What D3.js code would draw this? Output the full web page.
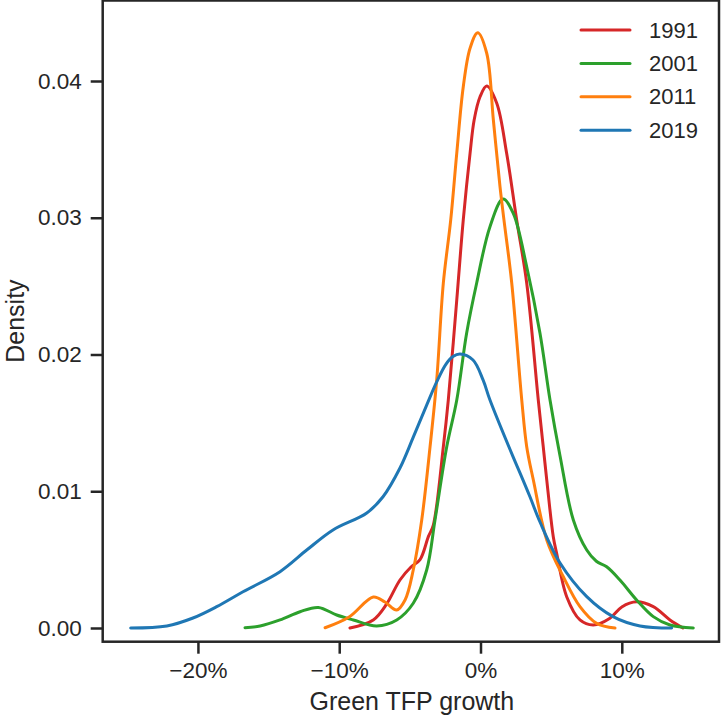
<!DOCTYPE html>
<html>
<head>
<meta charset="utf-8">
<script src="https://cdn.jsdelivr.net/npm/d3@7"></script>
<style>
  html, body { margin: 0; padding: 0; background: #fff; }
  svg { display: block; }
  text { font-family: "Liberation Sans", Arial, sans-serif; fill: #262626; }
</style>
</head>
<body>
<svg id="chart" width="722" height="719"></svg>
<script>
// ---- data (x in %, density) ----
const years = ["1991", "2001", "2011", "2019"];
const colors = ["#d62728", "#2ca02c", "#ff7f0e", "#1f77b4"];

const x1991 = [-9.24, -7.59, -6.64, -5.70, -4.92, -4.28, -3.69, -3.34, -2.63, -2.28, -1.68, -1.22, -0.74, -0.45, -0.04, 0.44, 1.15, 1.85, 2.56, 3.27, 4.09, 4.44, 4.69, 5.15, 5.39, 6.10, 7.04, 7.98, 9.16, 10.00, 11.05, 12.23, 13.41, 14.33];
const d1991 = [0.0000, 0.00059, 0.00176, 0.00351, 0.00446, 0.00500, 0.00668, 0.00753, 0.01326, 0.01667, 0.02399, 0.02984, 0.03471, 0.03715, 0.03883, 0.03963, 0.03837, 0.03471, 0.02984, 0.02523, 0.01667, 0.01326, 0.01082, 0.00668, 0.00546, 0.00229, 0.00059, 0.00022, 0.00071, 0.00154, 0.00192, 0.00156, 0.00059, 0.0000];

const x2001 = [-16.67, -15.60, -14.19, -12.77, -11.48, -10.18, -9.00, -7.35, -5.93, -4.76, -3.81, -3.22, -2.39, -1.68, -0.98, -0.27, 0.67, 1.59, 2.32, 3.27, 4.21, 4.92, 5.63, 6.57, 7.52, 8.20, 8.93, 9.87, 11.05, 12.23, 13.41, 15.06];
const d2001 = [0.00002, 0.00015, 0.00059, 0.00119, 0.00150, 0.00095, 0.00059, 0.00015, 0.00059, 0.00181, 0.00424, 0.00790, 0.01326, 0.01667, 0.02157, 0.02523, 0.02935, 0.03137, 0.03032, 0.02642, 0.02155, 0.01667, 0.01258, 0.00790, 0.00570, 0.00488, 0.00448, 0.00351, 0.00205, 0.00083, 0.00022, 0.0000];

const x2011 = [-11.00, -9.27, -7.59, -6.76, -5.93, -5.34, -4.76, -4.16, -3.57, -3.10, -2.63, -2.11, -1.68, -1.22, -0.74, -0.20, 0.44, 0.91, 1.38, 1.66, 2.21, 2.92, 3.27, 3.74, 4.69, 5.86, 7.04, 8.22, 9.52];
const d2011 = [0.00002, 0.00083, 0.00227, 0.00190, 0.00132, 0.00205, 0.00424, 0.00790, 0.01326, 0.01814, 0.02523, 0.02982, 0.03473, 0.03958, 0.04240, 0.04353, 0.04203, 0.03715, 0.03227, 0.02984, 0.02523, 0.01667, 0.01326, 0.01082, 0.00644, 0.00375, 0.00156, 0.00034, 0.0000];

const x2019 = [-24.76, -22.20, -20.35, -18.67, -16.81, -14.19, -12.30, -10.44, -8.05, -6.90, -5.70, -4.78, -3.81, -3.10, -2.44, -1.95, -1.45, -0.53, 0.18, 0.67, 2.30, 2.80, 3.50, 4.21, 5.63, 7.52, 9.38, 11.29, 13.53];
const d2019 = [0.0000, 0.00015, 0.00073, 0.00156, 0.00265, 0.00412, 0.00570, 0.00717, 0.00841, 0.00960, 0.01170, 0.01390, 0.01630, 0.01800, 0.01930, 0.01985, 0.02004, 0.01960, 0.01814, 0.01667, 0.01253, 0.01133, 0.00960, 0.00775, 0.00475, 0.00229, 0.00083, 0.00015, 0.0000];

const xTicks = [-20, -10, 0, 10];
const xTickLabels = ["\u221220%", "\u221210%", "0%", "10%"];
const yTicks = [0, 0.01, 0.02, 0.03, 0.04];
const yTickLabels = ["0.00", "0.01", "0.02", "0.03", "0.04"];

const seriesX = [x1991, x2001, x2011, x2019];
const seriesD = [d1991, d2001, d2011, d2019];

// ---- layout ----
const svg = d3.select("#chart");
const mLeft = 102.7, mRight = 719, mTop = 0.5, mBottom = 641.7;

const x = d3.scaleLinear().domain([-26.74, 16.88]).range([mLeft, mRight]);
const y = d3.scaleLinear().domain([-0.001002, 0.045887]).range([mBottom, mTop]);

const ink = "#262626";

// curves
const line = d3.line().x(d => x(d[0])).y(d => y(d[1])).curve(d3.curveCatmullRom.alpha(0.5));
years.forEach((yr, i) => {
  const pts = seriesX[i].map((v, j) => [v, seriesD[i][j]]);
  svg.append("path")
    .attr("d", line(pts))
    .attr("fill", "none")
    .attr("stroke", colors[i])
    .attr("stroke-width", 3)
    .attr("stroke-linecap", "round")
    .attr("stroke-linejoin", "round");
});

// frame
svg.append("rect")
  .attr("x", mLeft).attr("y", mTop)
  .attr("width", mRight - mLeft).attr("height", mBottom - mTop)
  .attr("fill", "none").attr("stroke", ink).attr("stroke-width", 2.5);

// x axis
const xAxis = d3.axisBottom(x).tickValues(xTicks)
  .tickFormat((d, i) => xTickLabels[i]).tickSize(12).tickPadding(8);
const gx = svg.append("g").attr("transform", `translate(0,${mBottom})`).call(xAxis);
gx.select(".domain").remove();
gx.selectAll(".tick line").attr("stroke", ink).attr("stroke-width", 2.5);
gx.selectAll(".tick text").attr("font-size", 22.5).attr("fill", ink)
  .attr("font-family", '"Liberation Sans", Arial, sans-serif');

// y axis
const yAxis = d3.axisLeft(y).tickValues(yTicks)
  .tickFormat((d, i) => yTickLabels[i]).tickSize(12).tickPadding(9);
const gy = svg.append("g").attr("transform", `translate(${mLeft},0)`).call(yAxis);
gy.select(".domain").remove();
gy.selectAll(".tick line").attr("stroke", ink).attr("stroke-width", 2.5);
gy.selectAll(".tick text").attr("font-size", 22.5).attr("fill", ink)
  .attr("font-family", '"Liberation Sans", Arial, sans-serif');

// axis labels
svg.append("text")
  .attr("x", (mLeft + mRight) / 2 + 1).attr("y", 710)
  .attr("text-anchor", "middle").attr("font-size", 25)
  .text("Green TFP growth");
svg.append("text")
  .attr("transform", `translate(24,${(mTop + mBottom) / 2}) rotate(-90)`)
  .attr("text-anchor", "middle").attr("font-size", 25)
  .text("Density");

// legend
const legend = svg.append("g");
years.forEach((yr, i) => {
  const ly = 30 + i * 33.4;
  legend.append("line")
    .attr("x1", 581).attr("x2", 630).attr("y1", ly).attr("y2", ly)
    .attr("stroke", colors[i]).attr("stroke-width", 3).attr("stroke-linecap", "round");
  legend.append("text")
    .attr("x", 649).attr("y", ly + 7.5)
    .attr("font-size", 22)
    .text(yr);
});
</script>
</body>
</html>
